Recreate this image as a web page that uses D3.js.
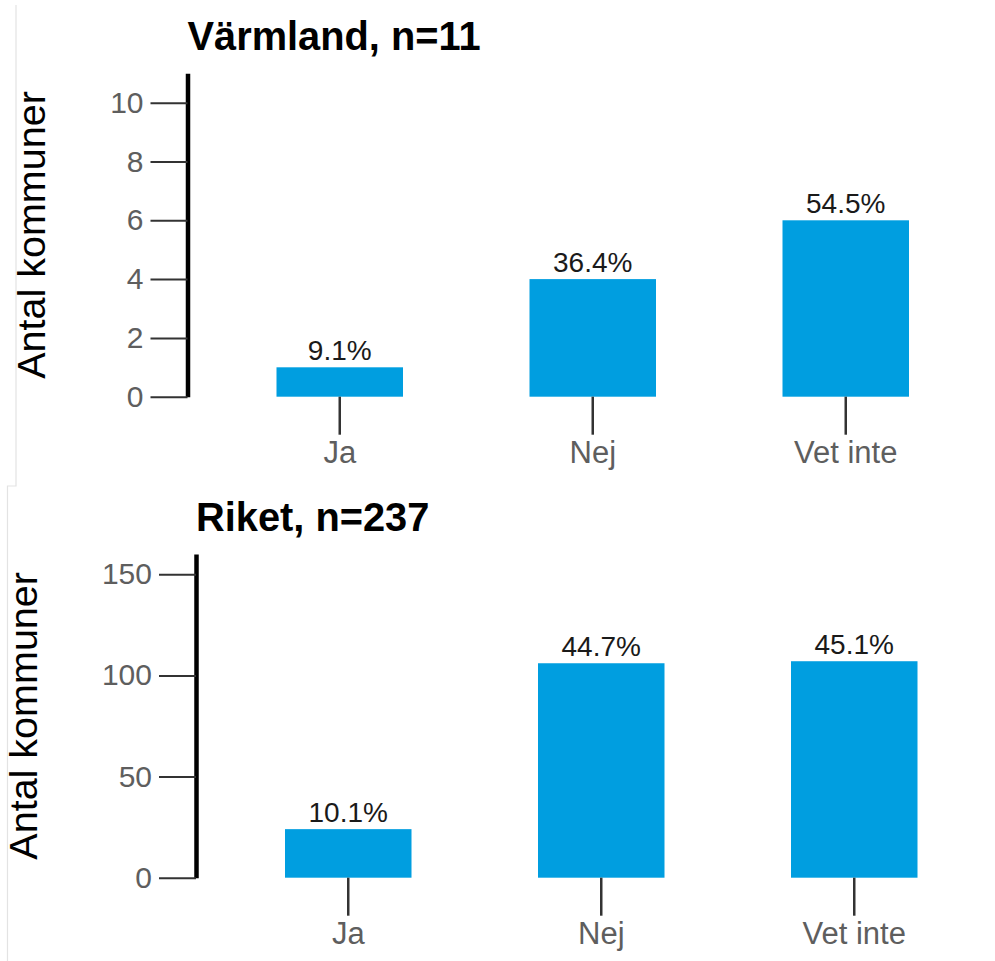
<!DOCTYPE html>
<html>
<head>
<meta charset="utf-8">
<script src="https://cdn.jsdelivr.net/npm/d3@7"></script>
<style>
  html, body { margin: 0; padding: 0; background: #ffffff; }
  svg { display: block; }
  text { font-family: "Liberation Sans", Arial, Helvetica, sans-serif; }
</style>
</head>
<body>
<svg id="chart" width="995" height="961"></svg>
<script>
// Survey answers per region: number of municipalities per answer
const categories = ["Ja", "Nej", "Vet inte"];

const varmlandTitle = "Värmland";
const varmlandN = 11;
const varmlandCounts = [1, 4, 6];
const varmlandTicks = [0, 2, 4, 6, 8, 10];
const varmlandMax = 11;

const riketTitle = "Riket";
const riketN = 237;
const riketCounts = [24, 106, 107];
const riketTicks = [0, 50, 100, 150];
const riketMax = 160;

const yAxisTitle = "Antal kommuner";
const barColor = "#009ee0";

const svg = d3.select("#chart");

// thin frame edges around the two panels
svg.append("path")
  .attr("d", "M16,5V486H7.5V961")
  .attr("fill", "none")
  .attr("stroke", "#e3e3e3")
  .attr("stroke-width", 1.2);

const fmtPct = d3.format(".1f");

function drawPanel(cfg, layout) {
  const g = svg.append("g");

  const y = d3.scaleLinear()
    .domain([0, cfg.max])
    .range([layout.zeroY, layout.topY]);

  const x = d3.scaleBand()
    .domain(categories)
    .range([layout.axisX - 37.5, layout.axisX - 37.5 + 3.5 * 253])
    .paddingInner(0.5)
    .paddingOuter(0.5);

  // title
  g.append("text")
    .attr("x", layout.axisX)
    .attr("y", layout.titleY)
    .attr("font-size", 39.8)
    .attr("font-weight", "bold")
    .attr("fill", "#000")
    .text(`${cfg.title}, n=${cfg.n}`);

  // y axis title
  g.append("text")
    .attr("transform", `translate(${layout.labelX},${(layout.zeroY + layout.topY) / 2}) rotate(-90)`)
    .attr("text-anchor", "middle")
    .attr("font-size", 39.5)
    .attr("fill", "#000")
    .text(yAxisTitle);

  // bars
  g.selectAll("rect.bar")
    .data(cfg.counts)
    .join("rect")
    .attr("class", "bar")
    .attr("x", (d, i) => x(categories[i]))
    .attr("width", x.bandwidth())
    .attr("y", d => y(d))
    .attr("height", d => y(0) - y(d))
    .attr("fill", barColor);

  // percentage labels
  g.selectAll("text.pct")
    .data(cfg.counts)
    .join("text")
    .attr("class", "pct")
    .attr("x", (d, i) => x(categories[i]) + x.bandwidth() / 2)
    .attr("y", d => y(d) - 7)
    .attr("text-anchor", "middle")
    .attr("font-size", 28)
    .attr("fill", "#1a1a1a")
    .text(d => fmtPct(d / cfg.n * 100) + "%");

  // y axis
  const yAxis = g.append("g")
    .attr("transform", `translate(${layout.axisX},0)`)
    .call(d3.axisLeft(y).tickValues(cfg.ticks).tickSize(37).tickSizeOuter(0).tickPadding(7));
  yAxis.select(".domain").attr("stroke", "#000").attr("stroke-width", 4.5);
  yAxis.selectAll(".tick line").attr("stroke", "#333").attr("stroke-width", 2);
  yAxis.selectAll(".tick text")
    .attr("font-size", 30)
    .attr("font-family", null)
    .attr("fill", "#5e5e5e");

  // x axis (ticks only)
  const xAxis = g.append("g")
    .attr("transform", `translate(0,${layout.zeroY})`)
    .call(d3.axisBottom(x).tickSize(38).tickSizeOuter(0));
  xAxis.select(".domain").remove();
  xAxis.selectAll(".tick line").attr("stroke", "#333").attr("stroke-width", 2.5);
  xAxis.selectAll(".tick text")
    .attr("y", 66)
    .attr("dy", null)
    .attr("font-size", 31)
    .attr("font-family", null)
    .attr("fill", "#5e5e5e");
}

drawPanel(
  { title: varmlandTitle, n: varmlandN, counts: varmlandCounts, ticks: varmlandTicks, max: varmlandMax },
  { axisX: 187.5, zeroY: 396.7, topY: 73.3, titleY: 50, labelX: 45 }
);

drawPanel(
  { title: riketTitle, n: riketN, counts: riketCounts, ticks: riketTicks, max: riketMax },
  { axisX: 196, zeroY: 877.7, topY: 554, titleY: 530.7, labelX: 36.5 }
);
</script>
</body>
</html>
